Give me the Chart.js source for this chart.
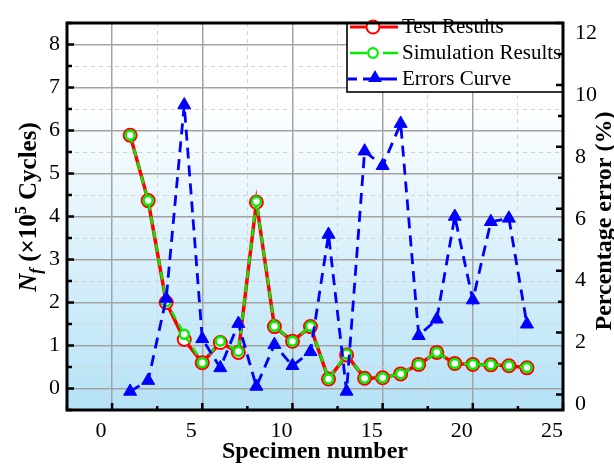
<!DOCTYPE html>
<html>
<head>
<meta charset="utf-8">
<title>Specimen number</title>
<script src="https://cdn.jsdelivr.net/npm/chart.js@4.4.0/dist/chart.umd.min.js"></script>
<style>
    html, body { margin: 0; padding: 0; background: #ffffff; }
    #grafico { display: block; }
</style>
</head>
<body>
<canvas id="grafico" width="614" height="466"></canvas>
<script>
// ==================== DADOS ====================
const especimes = [1, 2, 3, 4, 5, 6, 7, 8, 9, 10, 11, 12, 13, 14, 15, 16, 17, 18, 19, 20, 21, 22, 23];
const testResults = [5.89, 4.37, 2.00, 1.14, 0.60, 1.07, 0.84, 4.33, 1.44, 1.10, 1.44, 0.22, 0.78, 0.24, 0.25, 0.34, 0.56, 0.84, 0.58, 0.56, 0.55, 0.53, 0.48];
const simResults = [5.89, 4.37, 2.02, 1.26, 0.60, 1.10, 0.86, 4.35, 1.45, 1.10, 1.45, 0.22, 0.80, 0.24, 0.25, 0.34, 0.56, 0.84, 0.58, 0.56, 0.55, 0.53, 0.49];
const errorsCurve = [0.10, 0.45, 3.10, 9.35, 1.80, 0.86, 2.29, 0.26, 1.61, 0.93, 1.38, 5.17, 0.10, 7.86, 7.39, 8.75, 1.90, 2.43, 5.75, 3.05, 5.58, 5.69, 2.27];

const xTicks = [-2.5, 0, 2.5, 5, 7.5, 10, 12.5, 15, 17.5, 20, 22.5, 25];
const yTicks = [-0.5, 0, 0.5, 1, 1.5, 2, 2.5, 3, 3.5, 4, 4.5, 5, 5.5, 6, 6.5, 7, 7.5, 8, 8.5];
const y1Ticks = [0, 1, 2, 3, 4, 5, 6, 7, 8, 9, 10, 11, 12];

const FONTE = "'Liberation Serif', 'Times New Roman', serif";
const VERMELHO = '#ff0000';
const VERDE = '#00ee00';
const AZUL = '#0000ff';

Chart.defaults.font.family = FONTE;
Chart.defaults.color = '#000000';

function pontos(valores) {
    return especimes.map((x, i) => ({ x: x, y: valores[i] }));
}

function corGrade(maior) {
    return ctx => (ctx.tick && maior(ctx.tick.value)) ? '#a3a3a3' : '#d2d2d2';
}

function larguraGrade(maior) {
    return ctx => (ctx.tick && maior(ctx.tick.value)) ? 1.5 : 1;
}

function tracoGrade(maior) {
    return ctx => (ctx.tick && maior(ctx.tick.value)) ? [] : [4, 4];
}

const maiorX = v => v % 5 === 0;
const maiorY = v => Number.isInteger(v);
const maiorY1 = v => v % 2 === 0;

// ==================== PLUGINS ====================
const fundoGradiente = {
    id: 'fundoGradiente',
    beforeDraw(chart) {
        const { ctx, chartArea: a } = chart;
        const g = ctx.createLinearGradient(0, a.top, 0, a.bottom);
        g.addColorStop(0, '#ffffff');
        g.addColorStop(0.2, '#ffffff');
        g.addColorStop(1, '#b5e2f6');
        ctx.save();
        ctx.fillStyle = g;
        ctx.fillRect(a.left, a.top, a.right - a.left, a.bottom - a.top);
        ctx.restore();
    }
};

function desenharCirculo(ctx, x, y, r, cor, largura) {
    ctx.beginPath();
    ctx.arc(x, y, r, 0, Math.PI * 2);
    ctx.fillStyle = '#ffffff';
    ctx.fill();
    ctx.lineWidth = largura;
    ctx.strokeStyle = cor;
    ctx.setLineDash([]);
    ctx.stroke();
}

function desenharTriangulo(ctx, x, y, r, cor) {
    ctx.beginPath();
    for (let k = 0; k < 3; k++) {
        const ang = k * 2 * Math.PI / 3;
        const px = x + Math.sin(ang) * r;
        const py = y - Math.cos(ang) * r;
        if (k === 0) ctx.moveTo(px, py); else ctx.lineTo(px, py);
    }
    ctx.closePath();
    ctx.fillStyle = cor;
    ctx.fill();
}

function desenharLegenda(ctx, a) {
    const x1 = 347, y1 = a.top, x2 = a.right, y2 = 92;
    ctx.save();
    ctx.fillStyle = '#ffffff';
    ctx.fillRect(x1, y1, x2 - x1, y2 - y1);
    ctx.lineWidth = 1.6;
    ctx.strokeStyle = '#000000';
    ctx.strokeRect(x1, y1, x2 - x1, y2 - y1);

    const linhas = [27, 53, 79];
    ctx.lineCap = 'butt';

    // Test Results
    ctx.strokeStyle = VERMELHO;
    ctx.lineWidth = 3;
    ctx.setLineDash([]);
    ctx.beginPath();
    ctx.moveTo(350, linhas[0]);
    ctx.lineTo(398, linhas[0]);
    ctx.stroke();
    desenharCirculo(ctx, 373, linhas[0], 6.5, VERMELHO, 2);

    // Simulation Results
    ctx.strokeStyle = VERDE;
    ctx.lineWidth = 2.5;
    ctx.beginPath();
    ctx.moveTo(350, linhas[1]);
    ctx.lineTo(367, linhas[1]);
    ctx.moveTo(383, linhas[1]);
    ctx.lineTo(398, linhas[1]);
    ctx.stroke();
    desenharCirculo(ctx, 373, linhas[1], 4.8, VERDE, 2.2);

    // Errors Curve
    ctx.strokeStyle = AZUL;
    ctx.lineWidth = 2.8;
    ctx.beginPath();
    ctx.moveTo(348, linhas[2]);
    ctx.lineTo(357, linhas[2]);
    ctx.moveTo(363, linhas[2]);
    ctx.lineTo(397, linhas[2]);
    ctx.stroke();
    desenharTriangulo(ctx, 375, linhas[2] - 1, 8, AZUL);

    ctx.fillStyle = '#000000';
    ctx.font = '21px ' + FONTE;
    ctx.textBaseline = 'middle';
    ctx.textAlign = 'left';
    ctx.fillText('Test Results', 402, linhas[0]);
    ctx.fillText('Simulation Results', 402, linhas[1]);
    ctx.fillText('Errors Curve', 402, linhas[2]);
    ctx.restore();
}

function desenharMoldura(chart) {
    const { ctx, chartArea: a, scales } = chart;
    ctx.save();
    ctx.strokeStyle = '#000000';
    ctx.setLineDash([]);
    ctx.lineWidth = 2.5;
    ctx.beginPath();
    xTicks.forEach(v => {
        const px = scales.x.getPixelForValue(v);
        const len = maiorX(v) ? 7 : 4;
        ctx.moveTo(px, a.bottom);
        ctx.lineTo(px, a.bottom - len);
    });
    yTicks.forEach(v => {
        const py = scales.y.getPixelForValue(v);
        const len = maiorY(v) ? 7 : 5;
        ctx.moveTo(a.left, py);
        ctx.lineTo(a.left + len, py);
    });
    y1Ticks.forEach(v => {
        const py = scales.y1.getPixelForValue(v);
        const len = maiorY1(v) ? 7 : 5;
        ctx.moveTo(a.right, py);
        ctx.lineTo(a.right - len, py);
    });
    ctx.stroke();

    ctx.lineWidth = 3;
    ctx.strokeRect(a.left, a.top, a.right - a.left, a.bottom - a.top);
    ctx.restore();
}

function desenharTitulosY(chart) {
    const ctx = chart.ctx;
    ctx.save();
    ctx.fillStyle = '#000000';
    ctx.textBaseline = 'alphabetic';

    // N_f (x10^5 Cycles)
    const partes = [
        { t: 'N', f: 'italic bold 25px ' + FONTE, dy: 0 },
        { t: 'f', f: 'italic bold 17px ' + FONTE, dy: 5 },
        { t: ' (\u00d710', f: 'bold 25px ' + FONTE, dy: 0 },
        { t: '5', f: 'bold 16px ' + FONTE, dy: -10 },
        { t: ' Cycles)', f: 'bold 25px ' + FONTE, dy: 0 }
    ];
    let total = 0;
    partes.forEach(p => { ctx.font = p.f; p.w = ctx.measureText(p.t).width; total += p.w; });
    ctx.translate(28, 207);
    ctx.rotate(-Math.PI / 2);
    let x = -total / 2;
    ctx.textAlign = 'left';
    partes.forEach(p => {
        ctx.font = p.f;
        ctx.fillText(p.t, x, 8 + p.dy);
        x += p.w;
    });
    ctx.restore();

    ctx.save();
    ctx.fillStyle = '#000000';
    ctx.font = 'bold 24px ' + FONTE;
    ctx.textAlign = 'center';
    ctx.textBaseline = 'alphabetic';
    ctx.translate(603, 221);
    ctx.rotate(-Math.PI / 2);
    ctx.fillText('Percentage error (%)', 0, 8);
    ctx.restore();
}

const decoracao = {
    id: 'decoracao',
    afterDraw(chart) {
        desenharLegenda(chart.ctx, chart.chartArea);
        desenharMoldura(chart);
        desenharTitulosY(chart);
    }
};

// ==================== GRAFICO ====================
const eixoFonte = { family: FONTE, size: 22, lineHeight: 1 };

new Chart(document.getElementById('grafico'), {
    type: 'line',
    data: {
        datasets: [
            {
                label: 'Test Results',
                data: pontos(testResults),
                yAxisID: 'y',
                borderColor: VERMELHO,
                backgroundColor: '#ffffff',
                borderWidth: 3.5,
                pointRadius: 6.5,
                pointBorderWidth: 2,
                pointBorderColor: VERMELHO,
                pointBackgroundColor: '#ffffff',
                order: 2
            },
            {
                label: 'Simulation Results',
                data: pontos(simResults),
                yAxisID: 'y',
                borderColor: VERDE,
                backgroundColor: '#ffffff',
                borderWidth: 2.5,
                borderDash: [8, 6],
                pointRadius: 4.5,
                pointBorderWidth: 2.5,
                pointBorderColor: VERDE,
                pointBackgroundColor: '#ffffff',
                order: 1
            },
            {
                label: 'Errors Curve',
                data: pontos(errorsCurve),
                yAxisID: 'y1',
                borderColor: AZUL,
                backgroundColor: AZUL,
                borderWidth: 2.8,
                borderDash: [11, 7],
                pointStyle: 'triangle',
                pointRadius: 7.5,
                pointBorderWidth: 1,
                pointBorderColor: AZUL,
                pointBackgroundColor: AZUL,
                order: 0
            }
        ]
    },
    options: {
        responsive: false,
        animation: false,
        layout: { padding: { top: 12, left: 0, right: 0, bottom: 0 } },
        plugins: {
            legend: { display: false },
            tooltip: { enabled: false }
        },
        scales: {
            x: {
                type: 'linear',
                min: -2.5,
                max: 25,
                afterBuildTicks: scale => { scale.ticks = xTicks.map(v => ({ value: v })); },
                afterFit: scale => { scale.height = 56; },
                ticks: {
                    autoSkip: false,
                    maxRotation: 0,
                    padding: 10,
                    labelOffset: -11,
                    font: eixoFonte,
                    color: '#000000',
                    callback: v => maiorX(v) ? String(v) : ''
                },
                grid: {
                    drawTicks: false,
                    color: corGrade(maiorX),
                    lineWidth: larguraGrade(maiorX)
                },
                border: { display: false, dash: tracoGrade(maiorX) },
                title: {
                    display: true,
                    text: 'Specimen number',
                    color: '#000000',
                    font: { family: FONTE, size: 24, weight: 'bold', lineHeight: 1 },
                    padding: { top: 0, bottom: 2 }
                }
            },
            y: {
                type: 'linear',
                position: 'left',
                min: -0.5,
                max: 8.5,
                afterBuildTicks: scale => { scale.ticks = yTicks.map(v => ({ value: v })); },
                afterFit: scale => { scale.width = 67; },
                ticks: {
                    autoSkip: false,
                    padding: 7,
                    font: eixoFonte,
                    color: '#000000',
                    callback: v => maiorY(v) ? String(v) : ''
                },
                grid: {
                    drawTicks: false,
                    color: corGrade(maiorY),
                    lineWidth: larguraGrade(maiorY)
                },
                border: { display: false, dash: tracoGrade(maiorY) }
            },
            y1: {
                type: 'linear',
                position: 'right',
                min: -0.5,
                max: 12,
                afterBuildTicks: scale => { scale.ticks = y1Ticks.map(v => ({ value: v })); },
                afterFit: scale => { scale.width = 51; },
                ticks: {
                    autoSkip: false,
                    padding: 12,
                    labelOffset: 10,
                    font: eixoFonte,
                    color: '#000000',
                    callback: v => maiorY1(v) ? String(v) : ''
                },
                grid: { drawTicks: false, drawOnChartArea: false },
                border: { display: false }
            }
        }
    },
    plugins: [fundoGradiente, decoracao]
});
</script>
</body>
</html>
